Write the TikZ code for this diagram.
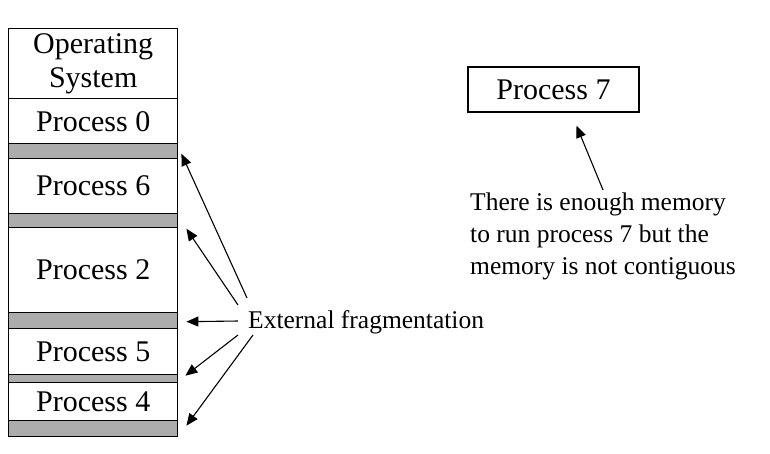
\documentclass[tikz,border=0pt]{standalone}
\usepackage{fontspec}
\setmainfont{Liberation Serif}
\usetikzlibrary{arrows.meta,calc}
\begin{document}
\begin{tikzpicture}[x=1pt,y=-1pt,
 seg/.style={draw, line width=1.4pt, anchor=north west, minimum width=169pt, inner sep=0pt, font=\fontsize{30}{34}\selectfont, align=center},
 hole/.style={draw, line width=1.4pt, fill=gray!65, anchor=north west, minimum width=169pt, inner sep=0pt},
 arr/.style={-{Triangle[length=12pt,width=10pt]}, line width=1.1pt},
 note/.style={font=\fontsize{25.5}{32}\selectfont, inner sep=0pt}
]
\useasboundingbox (0,0) rectangle (770,453);
% memory column
\node[seg, minimum height=70pt] (os) at (8,28) {Operating\\System};
\node[seg, minimum height=45pt] (p0) at (8,98) {Process 0};
\node[hole, minimum height=15pt] (h0) at (8,143) {};
\node[seg, minimum height=55pt] (p6) at (8,158) {Process 6};
\node[hole, minimum height=14pt] (h1) at (8,213) {};
\node[seg, minimum height=85pt] (p2) at (8,227) {Process 2};
\node[hole, minimum height=16pt] (h2) at (8,312) {};
\node[seg, minimum height=46pt] (p5) at (8,328) {Process 5};
\node[hole, minimum height=8pt] (h3) at (8,374) {};
\node[seg, minimum height=38pt] (p4) at (8,382) {Process 4};
\node[hole, minimum height=16pt] (h4) at (8,420) {};
% process 7
\node[draw, line width=1.4pt, minimum width=171pt, minimum height=45pt, inner sep=0pt, font=\fontsize{30}{34}\selectfont] (p7) at (553.5,89.5) {Process 7};
% notes
\node[note, anchor=west] (ext) at (248,322) {External fragmentation};
\node[note, anchor=north west, align=left] (nc) at (470,193) {There is enough memory\\to run process 7 but the\\memory is not contiguous};
% arrows
\draw[arr] ($(ext.west)+(-1,-24)$) -- ($(h0.east)+(3,2.5)$);
\draw[arr] ($(ext.west)+(-10,-17)$) -- ($(h1.east)+(8,8)$);
\draw[arr] ($(ext.west)+(-10,-1)$) -- ($(h2.east)+(8,1)$);
\draw[arr] ($(ext.west)+(-10,13)$) -- ($(h3.east)+(7,-3)$);
\draw[arr] ($(ext.west)+(5,13)$) -- ($(h4.east)+(8,-3)$);
\draw[arr] ($(nc.north)+(0,-3)$) -- ($(p7.south)+(23,13)$);
\end{tikzpicture}
\end{document}
